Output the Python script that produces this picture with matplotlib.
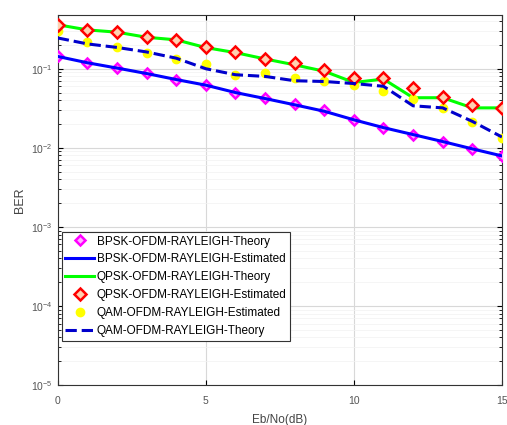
import numpy as np
import matplotlib.pyplot as plt

# Eb/No axis (dB)
snr_db = np.arange(0, 16)

# values
bpsk_theory = [0.143, 0.118, 0.102, 0.088, 0.073, 0.063, 0.049, 0.0425, 0.036, 0.030,
               0.0226, 0.0177, 0.0146, 0.012, 0.0096, 0.0078]
bpsk_est = [0.143, 0.119, 0.102, 0.087, 0.073, 0.062, 0.050, 0.042, 0.035, 0.029,
            0.0226, 0.0180, 0.0147, 0.0120, 0.0097, 0.0079]
qpsk_theory = [0.36, 0.31, 0.29, 0.25, 0.232, 0.185, 0.16, 0.133, 0.112, 0.093,
               0.067, 0.074, 0.043, 0.043, 0.032, 0.032]
qpsk_est = [0.36, 0.312, 0.292, 0.249, 0.233, 0.186, 0.161, 0.133, 0.118, 0.097,
            0.076, 0.076, 0.057, 0.044, 0.035, 0.032]
qam_est = [0.296, 0.218, 0.191, 0.158, 0.134, 0.115, 0.084, 0.088, 0.076, 0.071,
           0.063, 0.052, 0.041, 0.032, 0.021, 0.0133]
qam_theory = [0.245, 0.206, 0.186, 0.163, 0.136, 0.100, 0.084, 0.080, 0.0705, 0.069,
              0.065, 0.060, 0.034, 0.032, 0.0216, 0.0137]

plt.rcParams['font.family'] = ['Liberation Sans', 'DejaVu Sans']

fig = plt.figure(figsize=(5.07, 4.25), dpi=100)
ax = fig.add_axes([0.114, 0.094, 0.876, 0.871])

ax.semilogy(snr_db, bpsk_theory, 'D', color='#ff00ff', mfc='#ffb0ff', mew=1.8, ms=5.5,
            linestyle='none', label='BPSK-OFDM-RAYLEIGH-Theory', zorder=3)
ax.semilogy(snr_db, bpsk_est, '-', color='#0000ff', lw=2.2,
            label='BPSK-OFDM-RAYLEIGH-Estimated', zorder=4)
ax.semilogy(snr_db, qpsk_theory, '-', color='#00ff00', lw=2.2,
            label='QPSK-OFDM-RAYLEIGH-Theory', zorder=3)
ax.semilogy(snr_db, qpsk_est, 'D', color='#ff0000', mfc='#ffd0b0', mew=1.8, ms=6.5,
            linestyle='none', label='QPSK-OFDM-RAYLEIGH-Estimated', zorder=4)
ax.semilogy(snr_db, qam_est, 'o', color='#ffff00', ms=6, linestyle='none',
            label='QAM-OFDM-RAYLEIGH-Estimated', zorder=3)
ax.semilogy(snr_db, qam_theory, '--', color='#0000cc', lw=2.2,
            label='QAM-OFDM-RAYLEIGH-Theory', zorder=4)

ax.set_xlim(0, 15)
ax.set_ylim(1e-5, 0.48)
ax.set_xticks([0, 5, 10, 15])
ax.grid(True, which='major', color='#d8d8d8', lw=0.8)
ax.grid(True, which='minor', color='#f2f2f2', lw=0.5)
ax.tick_params(which='both', direction='in', top=True, right=True, labelsize=7.5,
               labelcolor='#555555')
ax.tick_params(axis='x', pad=8)
for s in ax.spines.values():
    s.set_color('#333333')

ax.set_xlabel('Eb/No(dB)', fontsize=8.5, color='#444444', labelpad=6)
ax.set_ylabel('BER', fontsize=9, color='#444444')

leg = ax.legend(loc='lower left', bbox_to_anchor=(0.009, 0.12), fontsize=8.5,
                handlelength=2.4, borderpad=0.3, labelspacing=0.5,
                handletextpad=0.25, fancybox=False, framealpha=1,
                borderaxespad=0)
leg.get_frame().set_edgecolor('#333333')
leg.get_frame().set_linewidth(0.8)

fig.savefig('out.png', dpi=100)
